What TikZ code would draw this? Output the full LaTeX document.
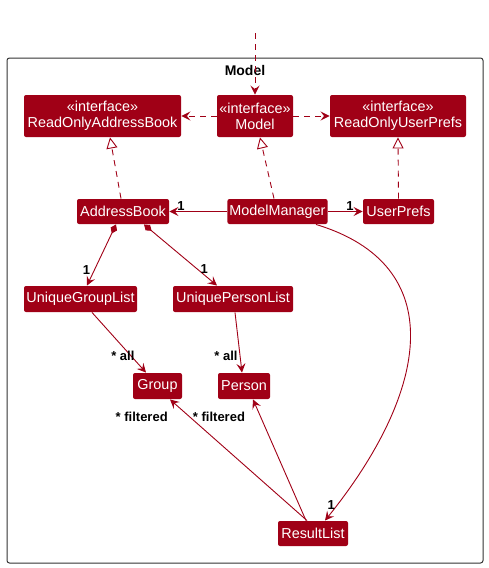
\documentclass[tikz,border=0pt]{standalone}
\usepackage{fontspec}
\setmainfont{Liberation Sans}
\usetikzlibrary{arrows.meta}
\definecolor{umlred}{RGB}{160,0,22}
\begin{document}
\begin{tikzpicture}[x=1pt, y=-1pt, line width=0.9pt,
    cls/.style={fill=umlred, text=white, rounded corners=2pt, inner sep=2pt,
        minimum height=25pt, font=\fontsize{14.4}{16.2}\selectfont},
    iface/.style={cls, minimum height=42pt, align=center},
    lbl/.style={font=\bfseries\fontsize{13}{14}\selectfont, inner sep=1pt},
    assoc/.style={draw=umlred, line width=0.9pt, -{Stealth[length=9pt, width=9pt, inset=3.5pt]}},
    dep/.style={assoc, dash pattern=on 6pt off 5pt},
    realize/.style={draw=umlred, line width=0.9pt, dash pattern=on 6pt off 5pt,
        -{Triangle[open, length=11pt, width=11pt, fill=white]}},
    compos/.style={assoc, {Diamond[length=10pt, width=7pt]}-{Stealth[length=9pt, width=9pt, inset=3.5pt]}}]
    \useasboundingbox (0,0) rectangle (488,568);

    % package frame
    \draw[rounded corners=2.5pt, line width=1pt, black!80] (7,58) rectangle (483,563);
    \node[font=\bfseries\fontsize{14}{15}\selectfont] (pkg) at (245,70) {Model};

    % interfaces
    \node[iface, minimum width=157pt] (roab) at (102.5,116) {«interface»\\ReadOnlyAddressBook};
    \node[iface, minimum width=76pt] (model) at (255,116) {«interface»\\Model};
    \node[iface, minimum width=136pt] (roup) at (398,116) {«interface»\\ReadOnlyUserPrefs};

    % classes
    \node[cls, minimum width=92pt] (ab) at (123,211.5) {AddressBook};
    \node[cls, minimum width=99pt] (mm) at (277.5,211.5) {ModelManager};
    \node[cls, minimum width=71pt] (up) at (398.5,211.5) {UserPrefs};
    \node[cls, minimum width=113pt, minimum height=26pt] (ugl) at (80.5,299) {UniqueGroupList};
    \node[cls, minimum width=120pt, minimum height=26pt] (upl) at (233,299) {UniquePersonList};
    \node[cls, minimum width=49pt, minimum height=26pt] (grp) at (157.5,386) {Group};
    \node[cls, minimum width=52pt, minimum height=26pt] (per) at (244,386) {Person};
    \node[cls, minimum width=70pt] (rl) at (313,533.5) {ResultList};

    % dependencies
    \coordinate (top) at (255,33);
    \draw[dep] (top) -- (model.north);
    \draw[dep] (model.west) -- (roab.east);
    \draw[dep] (model.east) -- (roup.west);

    % realizations
    \draw[realize] ([xshift=-2pt]ab.north) -- ([xshift=7.5pt]roab.south);
    \draw[realize] ([xshift=-3.5pt]mm.north) -- ([xshift=5pt]model.south);
    \draw[realize] (up.north) -- (roup.south);

    % associations
    \draw[assoc] (mm.west) -- (ab.east) node[lbl, pos=0.8, above] {1};
    \draw[assoc] (mm.east) -- (up.west) node[lbl, pos=0.64, above] {1};
    \draw[compos] ([xshift=-7pt]ab.south) -- ([xshift=6.5pt]ugl.north)
        node[lbl, pos=0.74, left, xshift=-3pt] {1};
    \draw[compos] ([xshift=21pt]ab.south) -- ([xshift=-16pt]upl.north)
        node[lbl, pos=0.73, right, xshift=2pt] {1};
    \draw[assoc] ([xshift=11.5pt]ugl.south) -- ([xshift=-11.5pt]grp.north)
        node[lbl, pos=0.72, left, xshift=5pt] {* all};
    \draw[assoc] ([xshift=2pt]upl.south) -- ([xshift=-2pt]per.north)
        node[lbl, pos=0.72, left, xshift=-1pt] {* all};
    \draw[assoc] ([xshift=-6pt]rl.north) -- ([xshift=12.5pt]grp.south)
        node[lbl, pos=0.86, left, xshift=-20pt] {* filtered};
    \draw[assoc] ([xshift=-7pt]rl.north) -- ([xshift=9pt]per.south)
        node[lbl, pos=0.86, left, xshift=-14pt] {* filtered};
    \draw[assoc] ([xshift=38.5pt]mm.south) .. controls (450,265) and (430,390) ..
        ([xshift=12pt]rl.north) node[lbl, pos=0.96, left, xshift=-1pt] {1};
\end{tikzpicture}
\end{document}
